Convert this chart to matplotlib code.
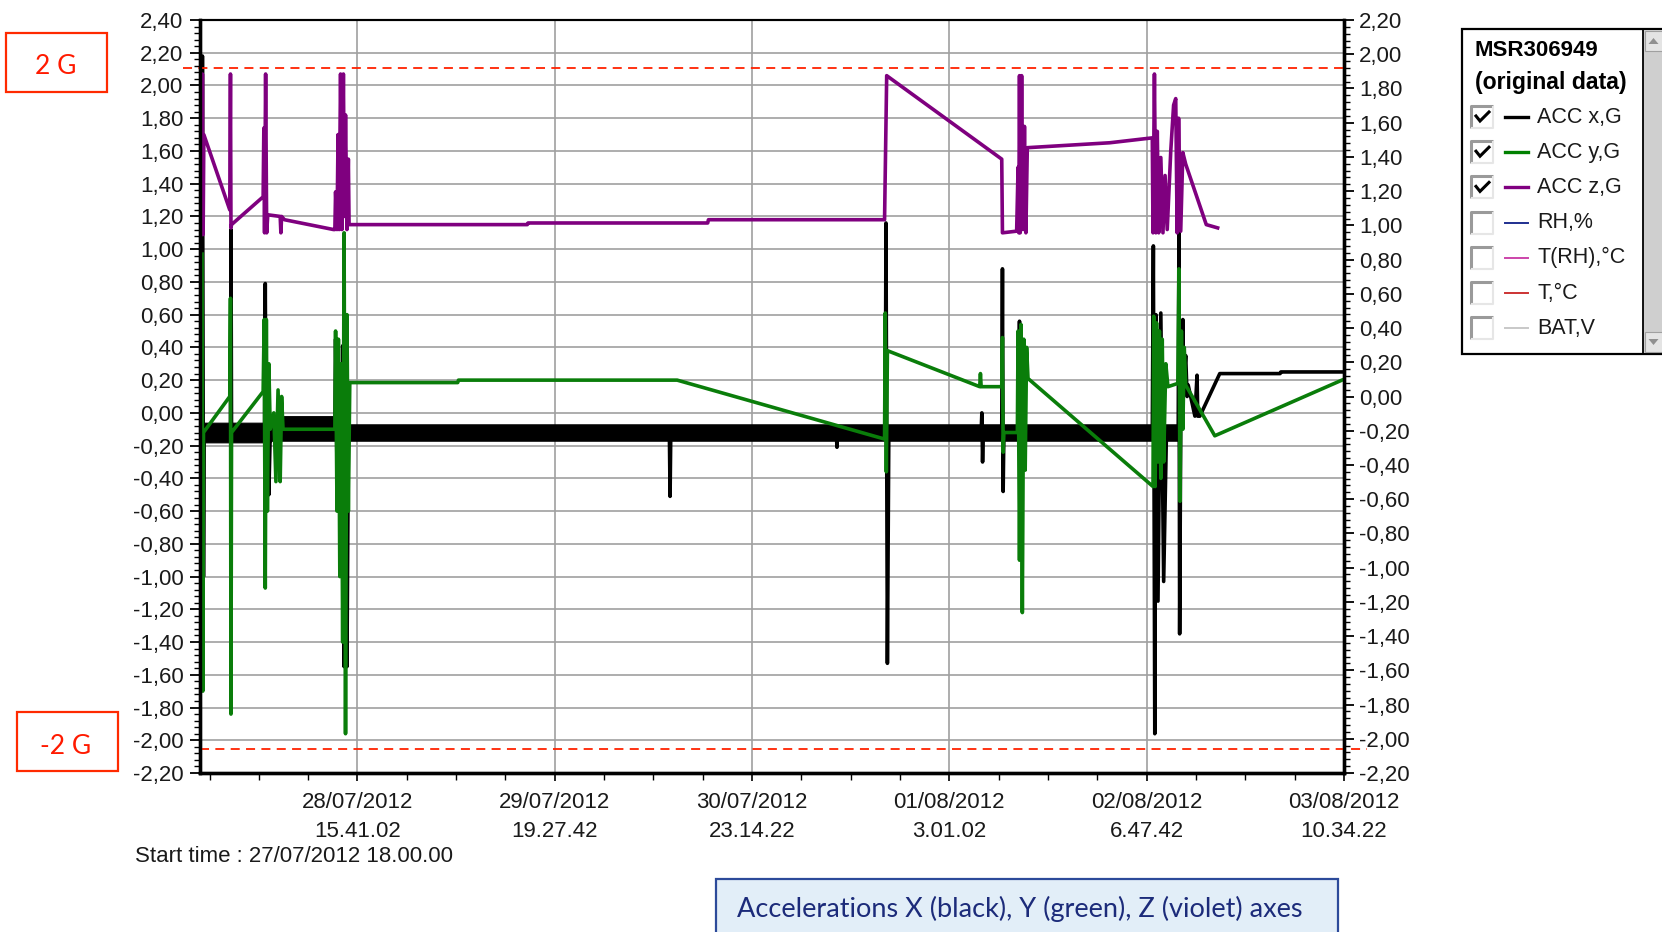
import matplotlib
matplotlib.use("Agg")
import matplotlib.pyplot as plt
from matplotlib.ticker import MultipleLocator, FixedLocator, FuncFormatter
from matplotlib.patches import Rectangle, Polygon
from datetime import datetime
import numpy as np

plt.rcParams['font.family'] = ['Liberation Sans', 'DejaVu Sans']

# ---------------- data ----------------
start_time = "27/07/2012 18.00.00"
x_tick_labels = ["28/07/2012\n15.41.02", "29/07/2012\n19.27.42", "30/07/2012\n23.14.22",
                 "01/08/2012\n3.01.02", "02/08/2012\n6.47.42", "03/08/2012\n10.34.22"]

# ACC x (black) - hours since start, G
acc_x_h = [-0.25, -0.15, 0.0, 0.1,
           3.8, 3.87, 3.95,
           8.6, 8.7, 8.85, 9.0, 9.2, 9.4,
           18.5, 18.6, 18.8, 19.1, 19.4, 19.6, 19.8, 20.0, 20.2, 20.4, 20.6,
           65.6, 65.7, 65.8,
           89.1, 89.2, 89.3,
           96.0, 96.1, 96.3, 96.5,
           109.5, 109.6, 109.7, 109.8,
           112.4, 112.5, 112.6, 112.7,
           114.7, 114.9, 115.1, 115.3, 115.5,
           133.6, 133.75, 133.95, 134.1, 134.4, 134.8, 135.2, 135.6,
           137.25, 137.35, 137.45, 137.6, 137.9, 138.0, 138.3, 138.5, 138.65,
           139.6, 139.9, 140.0, 140.3, 143.1, 151.6, 151.7, 160.6]
acc_x_g = [-0.12, 2.18, -1.0, -0.12,
           -0.12, 1.12, -0.12,
           -0.12, 0.79, -0.57, 0.3, -0.5, -0.12,
           -0.12, 0.45, -0.35, 0.3, -0.6, 0.41, -1.55, 0.41, -1.55, -0.2, -0.12,
           -0.12, -0.51, -0.12,
           -0.12, -0.21, -0.12,
           -0.12, 1.16, -1.53, -0.12,
           -0.12, 0.0, -0.30, -0.12,
           -0.12, 0.88, -0.48, -0.12,
           -0.12, 0.56, -0.39, 0.4, -0.12,
           -0.12, 1.02, -1.96, 0.6, -1.15, 0.61, -1.03, -0.1,
           -0.12, 1.12, -1.35, -0.1, 0.57, 0.15, 0.35, 0.1, 0.17,
           -0.02, 0.23, -0.02, -0.02, 0.24, 0.24, 0.25, 0.25]

# noisy band of ACC x (black) while at rest
band_h = [-0.1, 9.4, 9.6, 18.5, 20.7, 137.25]
band_lo = [-0.18, -0.18, -0.17, -0.17, -0.17, -0.17]
band_hi = [-0.06, -0.06, -0.02, -0.02, -0.07, -0.07]

# ACC y (green)
acc_y_h = [-0.2, -0.1, 0.0, 3.7, 3.8, 3.87, 3.95,
           8.4, 8.55, 8.7, 8.85, 9.0, 9.2, 9.4, 9.9, 10.2, 10.5, 10.8, 11.0, 11.2,
           18.5, 18.6, 18.8, 19.0, 19.2, 19.4, 19.6, 19.8, 20.0, 20.2, 20.4, 20.6,
           35.8, 35.9, 66.7, 95.9, 96.0, 96.15, 96.3,
           109.3, 109.4, 109.5, 112.4, 112.5, 112.6, 112.7,
           114.6, 114.7, 114.9, 115.1, 115.3, 115.5, 115.7, 115.9, 116.1,
           133.7, 133.8, 134.0, 134.2, 134.4, 134.6, 134.8, 135.0, 135.2, 135.5, 135.8,
           137.2, 137.35, 137.5, 137.7, 137.9, 138.1, 138.3, 142.4, 160.3]
acc_y_g = [0.97, -1.70, -0.12, 0.10, 0.70, -1.84, -0.12,
           0.13, 0.57, -1.07, 0.57, -0.6, 0.3, -0.1, 0.0, -0.42, 0.14, -0.42, 0.1, -0.10,
           -0.10, 0.50, -0.6, 0.45, -1.0, 0.3, -1.4, 1.10, -1.96, 0.6, -0.6, 0.185,
           0.185, 0.20, 0.20, -0.16, 0.61, -0.36, 0.38,
           0.16, 0.24, 0.16, 0.16, 0.46, -0.24, -0.12,
           -0.12, 0.5, -0.9, 0.54, -1.22, 0.45, -0.35, 0.4, 0.21,
           -0.45, 0.59, -0.45, 0.55, -0.3, 0.5, -0.4, 0.45, -0.3, 0.3, 0.16,
           0.18, 0.88, -0.54, 0.5, -0.1, 0.4, 0.17, -0.14, 0.20]

# ACC z (violet)
acc_z_h = [-0.25, -0.15, -0.05, 0.05, 3.7, 3.8, 3.87, 3.95,
           8.4, 8.5, 8.6, 8.75, 8.9, 9.05, 10.8, 10.9, 11.0, 11.4,
           18.3, 18.5, 18.6, 18.8, 18.95, 19.1, 19.3, 19.5, 19.7, 19.85, 20.0, 20.2, 20.4, 20.5,
           45.6, 45.7, 71.0, 71.1, 95.9, 96.2, 112.4, 112.5, 114.5,
           114.7, 114.8, 114.9, 115.0, 115.2, 115.4, 115.6, 115.8, 116.0,
           127.6, 133.6, 133.7, 133.9, 134.1, 134.3, 134.5, 134.8, 135.1, 135.4, 135.7,
           136.2, 136.6, 136.9, 137.1, 137.3, 137.6, 137.9, 138.3, 141.2, 142.8]
acc_z_g = [1.09, 2.07, 1.09, 1.70, 1.24, 2.07, 1.13, 1.15,
           1.32, 1.74, 1.10, 2.07, 1.10, 1.21, 1.20, 1.10, 1.20, 1.18,
           1.12, 1.12, 1.35, 1.12, 1.7, 1.12, 2.07, 1.12, 2.07, 1.2, 1.82, 1.12, 1.55, 1.15,
           1.15, 1.16, 1.16, 1.18, 1.18, 2.06, 1.55, 1.10, 1.11,
           1.5, 1.10, 2.06, 1.10, 2.06, 1.12, 1.75, 1.10, 1.62,
           1.65, 1.68, 1.10, 2.07, 1.10, 1.72, 1.10, 1.56, 1.10, 1.45, 1.12,
           1.6, 1.88, 1.92, 1.10, 1.80, 1.11, 1.59, 1.52, 1.15, 1.13]

limit_levels = [2.107, -2.053]  # red dashed reference lines (left-axis units)

legend_title = ["MSR306949", "(original data)"]
legend_labels = ["ACC x,G", "ACC y,G", "ACC z,G", "RH,%", "T(RH),°C", "T,°C", "BAT,V"]
legend_colors = ['#000000', '#008000', '#800080', '#1f2f8f', '#cc44aa', '#cc3333', '#c8c8c8']
legend_checked = [True, True, True, False, False, False, False]

# ---------------- figure ----------------
W, H = 1662, 932
fig = plt.figure(figsize=(W / 100, H / 100), dpi=100)
fig.patch.set_facecolor('white')

ax = fig.add_axes([200 / W, 1 - 773 / H, 1144 / W, 753 / H])

t0 = datetime.strptime(start_time, "%d/%m/%Y %H.%M.%S")
tick_hours = [(datetime.strptime(s, "%d/%m/%Y\n%H.%M.%S") - t0).total_seconds() / 3600
              for s in x_tick_labels]

ax.set_xlim(-0.49, tick_hours[-1] + 0.02)
ax.set_ylim(-2.2, 2.4)

def comma_fmt(v, pos):
    if abs(v) < 1e-9:
        v = 0.0
    return f"{v:.2f}".replace('.', ',')

ax.yaxis.set_major_locator(MultipleLocator(0.2))
ax.yaxis.set_minor_locator(MultipleLocator(0.04))
ax.yaxis.set_major_formatter(FuncFormatter(comma_fmt))

ax.set_xticks(tick_hours)
ax.set_xticklabels(x_tick_labels)
step = (tick_hours[1] - tick_hours[0]) / 4
ax.xaxis.set_minor_locator(FixedLocator(np.arange(tick_hours[0] - 3 * step, tick_hours[-1], step)))

ax.set_axisbelow(True)
ax.grid(True, which='major', axis='both', color='#a0a0a0', lw=1.2)

LW = 2.6
ax.fill_between(band_h, band_lo, band_hi, color='black', lw=0.8, zorder=2)
ax.plot(acc_x_h, acc_x_g, color='black', lw=LW, zorder=3)
ax.plot(acc_y_h, acc_y_g, color='#0a7d0a', lw=LW, zorder=4)
ax.plot(acc_z_h, acc_z_g, color='#7f007f', lw=LW, zorder=5)

ytr = ax.get_yaxis_transform()
ax.plot([-0.015, 1.0], [limit_levels[0]] * 2, transform=ytr, clip_on=False,
        color='#ff2200', lw=1.3, ls=(0, (5, 3.5)), zorder=6)
ax.plot([0.0, 1.02], [limit_levels[1]] * 2, transform=ytr, clip_on=False,
        color='#ff2200', lw=1.3, ls=(0, (5, 3.5)), zorder=6)

for side in ['left', 'bottom', 'right']:
    ax.spines[side].set_linewidth(2.4)
ax.spines['top'].set_linewidth(1.5)

tc = '#1a1a1a'
FS = 16
ax.tick_params(axis='y', which='major', direction='out', length=7, width=1.3,
               labelsize=FS, pad=5, labelcolor=tc)
ax.tick_params(axis='y', which='minor', direction='out', length=4, width=1.0)
ax.tick_params(axis='x', which='major', direction='out', length=6, width=1.2,
               labelsize=FS, pad=8, labelcolor=tc)
ax.tick_params(axis='x', which='minor', direction='out', length=5, width=1.0)
for lbl in ax.get_xticklabels():
    lbl.set_linespacing(1.5)

ax2 = ax.twinx()
ax2.set_ylim(-2.2, 2.2)
ax2.yaxis.set_major_locator(MultipleLocator(0.2))
ax2.yaxis.set_minor_locator(MultipleLocator(0.04))
ax2.yaxis.set_major_formatter(FuncFormatter(comma_fmt))
ax2.tick_params(axis='y', which='major', direction='out', length=7, width=1.3,
                labelsize=FS, pad=4, labelcolor=tc)
ax2.tick_params(axis='y', which='minor', direction='out', length=4, width=1.0)
for side in ['left', 'bottom', 'right']:
    ax2.spines[side].set_linewidth(2.4)
ax2.spines['top'].set_linewidth(1.5)

# ---------------- overlay (pixel coordinates) ----------------
ov = fig.add_axes([0, 0, 1, 1], zorder=10)
ov.set_xlim(0, W)
ov.set_ylim(H, 0)
ov.axis('off')
ov.patch.set_alpha(0)

ov.text(135, 857, "Start time : " + start_time, fontsize=FS, color=tc, va='center', ha='left')

# red annotation boxes
ov.add_patch(Rectangle((6, 33), 101, 59, fill=False, ec='#ff2a00', lw=1.6))
ov.text(56, 66, "2 G", fontsize=19, color='#ff1a00', ha='center', va='center', family='Lato')
ov.add_patch(Rectangle((17, 712), 101, 59, fill=False, ec='#ff2a00', lw=1.6))
ov.text(66, 746, "-2 G", fontsize=19, color='#ff1a00', ha='center', va='center', family='Lato')

# bottom caption box
ov.add_patch(Rectangle((716, 879), 622, 70, fc='#e2eef8', ec='#2c4a9a', lw=1.6))
ov.text(737, 909, "Accelerations X (black), Y (green), Z (violet) axes", fontsize=19.5,
        color='#1c2b7a', ha='left', va='center', family='Lato')

# legend panel
ov.add_patch(Rectangle((1462, 29), 215, 325, fc='white', ec='black', lw=1.6))
ov.add_patch(Rectangle((1643, 30), 25, 323, fc='#cfcfcf', ec='none'))
ov.plot([1643, 1643], [29, 354], color='black', lw=1.3)
for yb, up in [(31, True), (332, False)]:
    ov.add_patch(Rectangle((1645, yb), 20, 20, fc='#e4e4e4', ec='#a0a0a0', lw=0.8))
    cx, cy = 1653.5, yb + 10
    tri = [(cx - 5, cy + 3), (cx + 5, cy + 3), (cx, cy - 3)] if up else \
          [(cx - 5, cy - 3), (cx + 5, cy - 3), (cx, cy + 3)]
    ov.add_patch(Polygon(tri, closed=True, fc='#909090', ec='none'))

ov.text(1475, 50, legend_title[0], fontsize=16, fontweight='bold', color='black', va='center')
ov.text(1475, 82, legend_title[1], fontsize=16.6, fontweight='bold', color='black', va='center')

for i, (lab, col, chk) in enumerate(zip(legend_labels, legend_colors, legend_checked)):
    cy = 117 + i * 35.2
    ov.add_patch(Rectangle((1471, cy - 11), 22, 22, fc='white', ec='none'))
    ov.plot([1471, 1471, 1493], [cy + 11, cy - 11, cy - 11], color='#9a9a9a', lw=2.2,
            solid_capstyle='butt')
    ov.plot([1471, 1493, 1493], [cy + 11, cy + 11, cy - 11], color='#e6e6e6', lw=1.5,
            solid_capstyle='butt')
    if chk:
        ov.plot([1476, 1480, 1489], [cy - 1, cy + 4, cy - 5], color='black', lw=2.2,
                solid_joinstyle='miter')
    ov.plot([1505, 1528], [cy, cy], color=col, lw=2.4 if chk else 1.4)
    ov.text(1537, cy, lab, fontsize=15.5, color='#1a1a1a', va='center', ha='left')

fig.savefig('out.png', dpi=100)
